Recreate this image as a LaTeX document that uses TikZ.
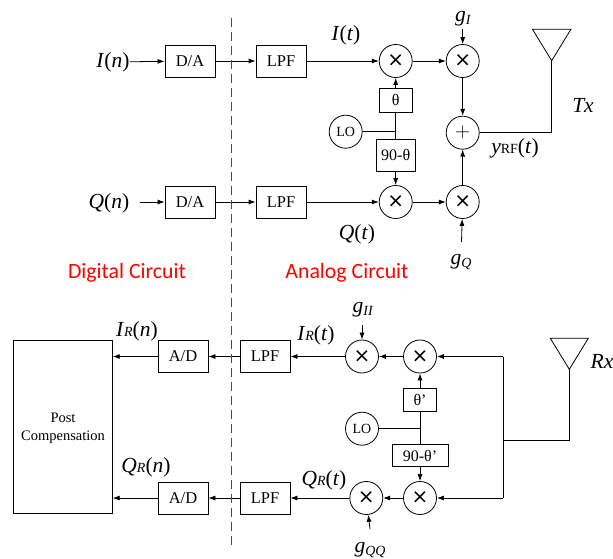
\documentclass[tikz,border=0pt]{standalone}
\usepackage{fontspec}
\setmainfont{Liberation Serif}
\newfontfamily\labelfont{Carlito}
\newfontfamily\crossfont{DejaVu Sans}
\usetikzlibrary{arrows.meta}
\definecolor{rosso}{HTML}{FF0000}
\newcommand{\vr}[1]{\textit{#1}}
\newcommand{\lowsub}[1]{\raisebox{-2.5pt}{\fontsize{14}{14}\selectfont\textit{#1}}}
\newcommand{\insub}[1]{{\fontsize{14}{14}\selectfont\textit{#1}}}
\newcommand{\crs}{{\crossfont ×}}
\tikzset{
  blockbox/.style={draw, line width=0.8pt, minimum width=50pt, minimum height=32pt, inner sep=0pt, font=\fontsize{16.5}{16.5}\selectfont},
  phasebox/.style={draw, line width=0.8pt, minimum width=33pt, minimum height=24pt, inner sep=0pt, font=\fontsize{16}{16}\selectfont},
  mixer/.style={draw, circle, line width=0.8pt, minimum size=33pt, inner sep=0pt, font=\fontsize{20}{20}\selectfont},
  osc/.style={draw, circle, line width=0.8pt, minimum size=33pt, inner sep=0pt, font=\fontsize{14}{14}\selectfont},
  signal/.style={inner sep=0pt, font=\fontsize{21.5}{21.5}\selectfont},
  area/.style={inner sep=0pt, text=rosso, font=\labelfont\fontsize{21.8}{21.8}\selectfont},
  wire/.style={line width=0.8pt},
  flow/.style={line width=0.8pt, -{Latex[length=7pt,width=5pt]}},
  divider/.style={draw=rosso, line width=1.5pt, dash pattern=on 9pt off 5pt}
}
\begin{document}
\begin{tikzpicture}[x=1pt,y=-1pt]
    \useasboundingbox (0,0) rectangle (613,559);
    \coordinate (dividerTop) at (231.5,18);
    \coordinate (dividerEnd) at (231.5,547);
    \node[area] (digital) at (127,273) {Digital Circuit};
    \node[area] (analog)  at (347,273) {Analog Circuit};

    % Tx
    \node[signal] (inI) at (113,62)  {\vr{I}(\vr{n})};
    \node[signal] (inQ) at (109,203) {\vr{Q}(\vr{n})};
    \coordinate (inQend) at (140,202);
    \node[blockbox] (daI)  at (190,61)  {D/A};
    \node[blockbox] (daQ)  at (190,202) {D/A};
    \node[blockbox] (lpfI) at (281,61)  {LPF};
    \node[blockbox] (lpfQ) at (281,202) {LPF};
    \node[mixer] (mixI)  at (395.7,61)  {\crs};
    \node[mixer] (mixQ)  at (395.7,202) {\crs};
    \node[mixer] (gainI) at (462.7,61)  {\crs};
    \node[mixer] (gainQ) at (462.7,202) {\crs};
    \node[mixer] (add)   at (462.7,132.7) {$+$};
    \node[phasebox] (theta) at (395.7,100) {θ};
    \node[phasebox, minimum width=38.7pt, minimum height=32pt] (thetaC) at (395.7,155) {90-θ};
    \node[osc] (lo) at (345.7,131.7) {LO};
    \coordinate (loJoin) at (395.7,131.7);
    \coordinate (antTx) at (551.7,60.7);
    \coordinate (gIend) at (462.7,29);
    \coordinate (gQend) at (461.5,242);
    \node[signal] (it) at (346,35)  {\vr{I}(\vr{t})};
    \node[signal] (qt) at (357,234) {\vr{Q}(\vr{t})};
    \node[signal] (gI) at (463,19)  {\vr{g}\lowsub{I}};
    \node[signal] (gQ) at (461,262) {\vr{g}\lowsub{Q}};
    \node[signal] (tx) at (583,105) {\vr{Tx}};
    \node[signal] (yrf) at (515,148) {\vr{y}{\fontsize{14}{14}\selectfont RF}(\vr{t})};
    \draw[flow] (inI) -- (daI);
    \draw[flow] (inQend) -- (daQ);
    \draw[flow] (daI) -- (lpfI);
    \draw[flow] (daQ) -- (lpfQ);
    \draw[flow] (lpfI) -- (mixI);
    \draw[flow] (lpfQ) -- (mixQ);
    \draw[flow] (mixI) -- (gainI);
    \draw[flow] (mixQ) -- (gainQ);
    \draw[flow] (gainI) -- (add);
    \draw[flow] (gainQ) -- (add);
    \draw[flow] (gIend) -- (gainI);
    \draw[flow] (gQend) -- (gainQ);
    \draw[flow] (theta) -- (mixI);
    \draw[flow] (thetaC) -- (mixQ);
    \draw[wire] (theta) -- (thetaC);
    \draw[wire] (lo) -- (loJoin);
    \draw[wire] (add) -- (antTx |- add) -- (antTx);
    \draw[wire] (antTx) -- ++(-19.2,-31.4) -- ++(38.4,0) -- cycle;

    % Rx
    \node[blockbox, minimum width=99.7pt, minimum height=173pt] (post) at (63,427.2) {};
    \node[inner sep=0pt, align=center, font=\fontsize{14.5}{18}\selectfont] (postText) at (63,428.5) {Post\\Compensation};
    \node[blockbox] (adI)  at (183,356.5) {A/D};
    \node[blockbox] (adQ)  at (183,498)   {A/D};
    \node[blockbox] (lpfRI) at (265,356.5) {LPF};
    \node[blockbox] (lpfRQ) at (265,498)   {LPF};
    \node[mixer] (gainII) at (362,356.5)  {\crs};
    \node[mixer] (gainQQ) at (366.3,498)  {\crs};
    \node[mixer] (mixRI)  at (420,356.5)  {\crs};
    \node[mixer] (mixRQ)  at (420,498)    {\crs};
    \node[phasebox, minimum height=23pt] (thetaR) at (420,400) {θ’};
    \node[phasebox, minimum width=56pt, minimum height=22pt] (thetaRC) at (420,455.5) {90-θ’};
    \node[osc] (loR) at (362,428.7) {LO};
    \coordinate (loRJoin) at (420,428.7);
    \coordinate (busI) at (503.3,356.5);
    \coordinate (busQ) at (503.3,498);
    \coordinate (busJoin) at (503.3,440);
    \coordinate (antRx) at (569.3,369.3);
    \coordinate (gIIend) at (362,325);
    \coordinate (gQQend) at (370,529);
    \coordinate (postI) at (112.7,356.5);
    \coordinate (postQ) at (112.7,498);
    \node[signal] (irn) at (137,331) {\vr{I}\insub{R}(\vr{n})};
    \node[signal] (qrn) at (146,467) {\vr{Q}\insub{R}(\vr{n})};
    \node[signal] (irt) at (316,335) {\vr{I}\insub{R}(\vr{t})};
    \node[signal] (qrt) at (324,480) {\vr{Q}\insub{R}(\vr{t})};
    \node[signal] (gII) at (363,310) {\vr{g}\lowsub{II}};
    \node[signal] (gQQ) at (370,550) {\vr{g}\lowsub{QQ}};
    \node[signal, anchor=west] (rx) at (590.5,361.5) {\vr{Rx}};
    \draw[flow] (adI) -- (postI);
    \draw[flow] (adQ) -- (postQ);
    \draw[flow] (lpfRI) -- (adI);
    \draw[flow] (lpfRQ) -- (adQ);
    \draw[flow] (gainII) -- (lpfRI);
    \draw[flow] (gainQQ) -- (lpfRQ);
    \draw[flow] (mixRI) -- (gainII);
    \draw[flow] (mixRQ) -- (gainQQ);
    \draw[flow] (busI) -- (mixRI);
    \draw[flow] (busQ) -- (mixRQ);
    \draw[flow] (thetaR) -- (mixRI);
    \draw[flow] (thetaRC) -- (mixRQ);
    \draw[flow] (gIIend) -- (gainII);
    \draw[flow] (gQQend) -- (gainQQ);
    \draw[wire] (thetaR) -- (thetaRC);
    \draw[wire] (loR) -- (loRJoin);
    \draw[wire] (busI) -- (busQ);
    \draw[wire] (busJoin) -- (antRx |- busJoin) -- (antRx);
    \draw[wire] (antRx) -- ++(-19,-31) -- ++(38,0) -- cycle;
    % divider
    \draw[divider] (dividerTop) -- (dividerEnd);
\end{tikzpicture}
\end{document}
